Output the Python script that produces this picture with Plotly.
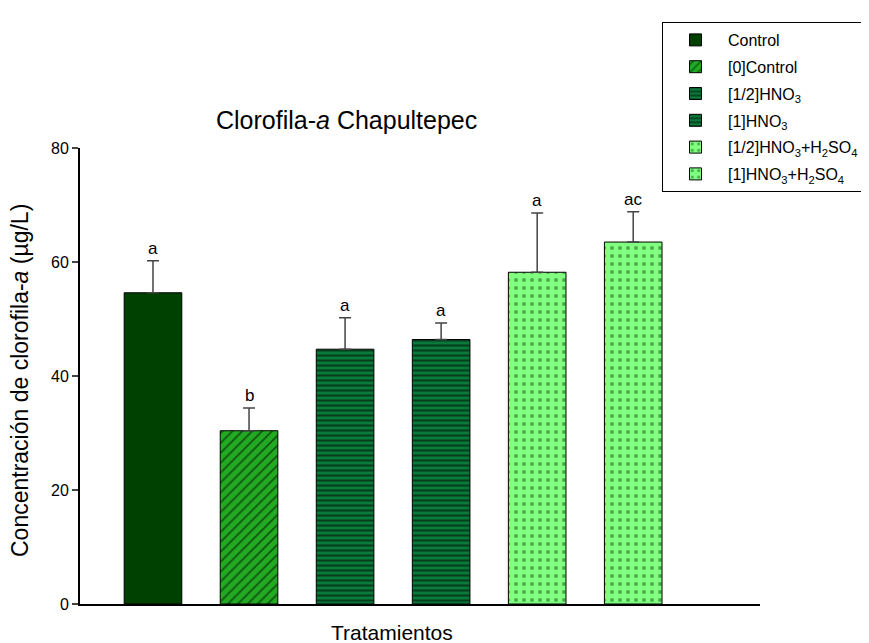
import plotly.graph_objects as go

names = ["Control", "[0]Control", "[1/2]HNO<sub>3</sub>", "[1]HNO<sub>3</sub>",
         "[1/2]HNO<sub>3</sub>+H<sub>2</sub>SO<sub>4</sub>", "[1]HNO<sub>3</sub>+H<sub>2</sub>SO<sub>4</sub>"]
values = [54.6, 30.4, 44.7, 46.4, 58.2, 63.5]
errors = [5.6, 4.0, 5.5, 2.9, 10.4, 5.3]
letters = ["a", "b", "a", "a", "a", "ac"]

colors = ["#004000", "#22aa22", "#0a7a3a", "#0a7a3a", "#80ff80", "#80ff80"]
shapes = ["", "/", "-", "-", ".", "."]
fgcols = ["black", "black", "black", "black", "#1a5a1a", "#1a5a1a"]
sizes = [8, 7, 5, 5, 8, 8]
solid = [0.3, 0.25, 0.4, 0.4, 0.2, 0.2]

font = "Liberation Sans, Arial, sans-serif"
fig = go.Figure()
for i, n in enumerate(names):
    fig.add_trace(go.Bar(
        x=[i], y=[values[i]], name=n, width=0.6, legendgroup=str(i),
        marker=dict(color=colors[i], line=dict(color="black", width=1),
                    pattern=dict(shape=shapes[i], fgcolor=fgcols[i], bgcolor=colors[i],
                                 size=sizes[i], solidity=solid[i])),
        error_y=dict(type="data", array=[errors[i]], symmetric=False, arrayminus=[0],
                     color="#444444", thickness=1.5, width=6),
    ))
    fig.add_annotation(x=i, y=values[i] + errors[i], text=letters[i], showarrow=False,
                       xanchor="center", yanchor="bottom", yshift=1,
                       font=dict(size=17, color="black", family=font))

fig.add_annotation(xref="paper", yref="paper", x=(346 - 80) / 680, y=(604 - 120) / 456,
                   text="Clorofila-<i>a</i> Chapultepec", showarrow=False,
                   xanchor="center", yanchor="middle",
                   font=dict(size=25, color="black", family=font))
fig.add_annotation(xref="paper", yref="paper", x=(392 - 80) / 680, y=(604 - 632) / 456,
                   text="Tratamientos", showarrow=False,
                   xanchor="center", yanchor="middle",
                   font=dict(size=21, color="black", family=font))
fig.add_annotation(xref="paper", yref="paper", x=(20 - 80) / 680, y=(604 - 381) / 456,
                   text="Concentración de clorofila-<i>a</i> (µg/L)", showarrow=False,
                   xanchor="center", yanchor="middle", borderpad=0,
                   textangle=-90, font=dict(size=23, color="black", family=font))

fig.update_layout(
    width=869, height=643,
    margin=dict(l=72, r=117, t=140, b=47, autoexpand=False),
    plot_bgcolor="white", paper_bgcolor="white",
    font=dict(family=font, color="black", size=13),
    showlegend=True,
    legend=dict(x=(662 - 80) / 680, y=(604 - 22) / 456, xanchor="left", yanchor="top",
                bordercolor="black", borderwidth=1, bgcolor="white",
                font=dict(size=16, family=font), tracegroupgap=3, itemwidth=55,
                entrywidth=213),
    xaxis=dict(range=[-0.76, 6.32], showticklabels=False, ticks="", showgrid=False,
               showline=True, linecolor="black", linewidth=2, zeroline=False),
    yaxis=dict(range=[0, 80], tickvals=[0, 20, 40, 60, 80], ticks="outside", ticklen=6,
               tickwidth=2, showgrid=False, showline=True, linecolor="black", linewidth=2,
               zeroline=False, tickfont=dict(size=16)),
)
fig.write_html("out.html")
